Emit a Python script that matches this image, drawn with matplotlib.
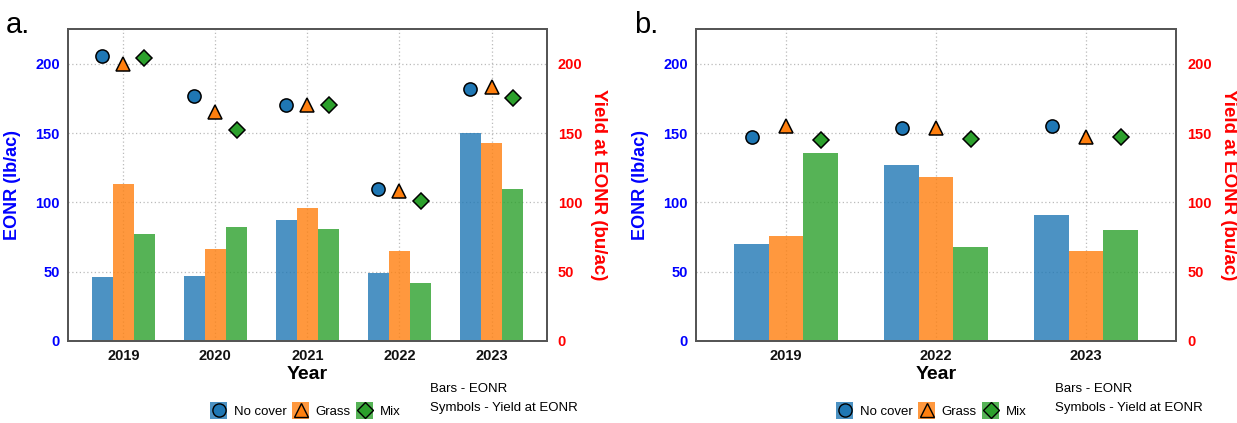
import numpy as np
import matplotlib
matplotlib.use("Agg")
import matplotlib.pyplot as plt
from matplotlib.patches import Rectangle
from matplotlib.lines import Line2D
from matplotlib.legend_handler import HandlerBase

plt.rcParams['font.family'] = ['Liberation Sans', 'DejaVu Sans']

series = ["No cover", "Grass", "Mix"]

years_a = ["2019", "2020", "2021", "2022", "2023"]
eonr_a = {
    "No cover": [46, 47, 87, 49, 150],
    "Grass":    [113, 66, 96, 65, 143],
    "Mix":      [77, 82, 81, 42, 110],
}
yield_a = {
    "No cover": [206, 177, 170, 110, 182],
    "Grass":    [200, 165, 170, 108, 183],
    "Mix":      [204, 152, 170, 101, 175],
}

years_b = ["2019", "2022", "2023"]
eonr_b = {
    "No cover": [70, 127, 91],
    "Grass":    [76, 118, 65],
    "Mix":      [136, 68, 80],
}
yield_b = {
    "No cover": [147, 154, 155],
    "Grass":    [155, 154, 147],
    "Mix":      [145, 146, 147],
}

colors = {"No cover": "#1f77b4", "Grass": "#ff7f0e", "Mix": "#2ca02c"}
markers = {"No cover": "o", "Grass": "^", "Mix": "D"}
msizes = {"No cover": 9.5, "Grass": 10.5, "Mix": 8}


class BoxMarkerHandler(HandlerBase):
    def create_artists(self, legend, orig_handle, xdescent, ydescent,
                       width, height, fontsize, trans):
        s = orig_handle.get_label()
        rect = Rectangle((-xdescent, -ydescent), width, height,
                         facecolor=colors[s], alpha=0.8, edgecolor="none",
                         transform=trans)
        cx = -xdescent + width / 2
        cy = -ydescent + height / 2
        mk = Line2D([cx], [cy], linestyle="none", marker=markers[s],
                    markersize=msizes[s], markerfacecolor=colors[s],
                    markeredgecolor="black", markeredgewidth=1.0, transform=trans)
        return [rect, mk]


fig = plt.figure(figsize=(12.37, 4.23), dpi=100)

def panel(rect, years, eonr, yld, label, leg_x, txt_x):
    ax = fig.add_axes(rect)
    x = np.arange(len(years))
    w = 0.23
    for i, s in enumerate(series):
        ax.bar(x + (i - 1) * w, eonr[s], width=w, color=colors[s], alpha=0.8, zorder=2)
    ax.set_ylim(0, 225)
    ax.set_xlim(-0.6, len(years) - 1 + 0.6)
    ax.set_xticks(x)
    ax.set_xticklabels(years)
    ax.set_yticks([0, 50, 100, 150, 200])
    ax.grid(True, linestyle=(0, (1, 2)), color="#bbbbbb", linewidth=0.9, zorder=0)
    ax.set_axisbelow(True)
    ax.tick_params(length=0, pad=6)
    for t in ax.get_xticklabels():
        t.set_fontweight("bold"); t.set_fontsize(10.5); t.set_color("#111111")
    for t in ax.get_yticklabels():
        t.set_fontweight("bold"); t.set_fontsize(10.5); t.set_color("blue")
    ax.set_xlabel("Year", fontsize=14, fontweight="bold", labelpad=2)
    ax.set_ylabel("EONR (lb/ac)", fontsize=13, fontweight="bold", color="blue", labelpad=10)
    for sp in ax.spines.values():
        sp.set_color("#555555"); sp.set_linewidth(1.3)

    ax2 = ax.twinx()
    ax2.set_ylim(0, 225)
    ax2.set_yticks([0, 50, 100, 150, 200])
    ax2.tick_params(length=0, pad=8)
    for t in ax2.get_yticklabels():
        t.set_fontweight("bold"); t.set_fontsize(10.5); t.set_color("red")
    ax2.set_ylabel("Yield at EONR (bu/ac)", fontsize=13.5, fontweight="bold", color="red",
                   rotation=270, labelpad=18)
    for sp in ax2.spines.values():
        sp.set_color("#555555"); sp.set_linewidth(1.3)
    for i, s in enumerate(series):
        ax2.plot(x + (i - 1) * w, yld[s], linestyle="none", marker=markers[s],
                 markersize=msizes[s], markerfacecolor=colors[s],
                 markeredgecolor="black", markeredgewidth=1.1, zorder=3)

    fig.text(rect[0] - 0.05, 0.975, label, fontsize=21, va="top", ha="left")

    handles = [Line2D([], [], label=s) for s in series]
    fig.legend(handles, series, loc="center", bbox_to_anchor=(leg_x, 0.03),
               ncol=3, frameon=False, fontsize=9.5, handlelength=1.3, handleheight=1.6,
               handletextpad=0.5, columnspacing=0.4,
               handler_map={Line2D: BoxMarkerHandler()})
    fig.text(txt_x, 0.080, "Bars - EONR", fontsize=9.5, va="center", ha="left")
    fig.text(txt_x, 0.035, "Symbols - Yield at EONR", fontsize=9.5, va="center", ha="left")

panel([0.055, 0.194, 0.387, 0.737], years_a, eonr_a, yield_a, "a.", 0.247, 0.348)
panel([0.5627, 0.194, 0.388, 0.737], years_b, eonr_b, yield_b, "b.", 0.753, 0.853)

fig.savefig("out.png", dpi=100)
